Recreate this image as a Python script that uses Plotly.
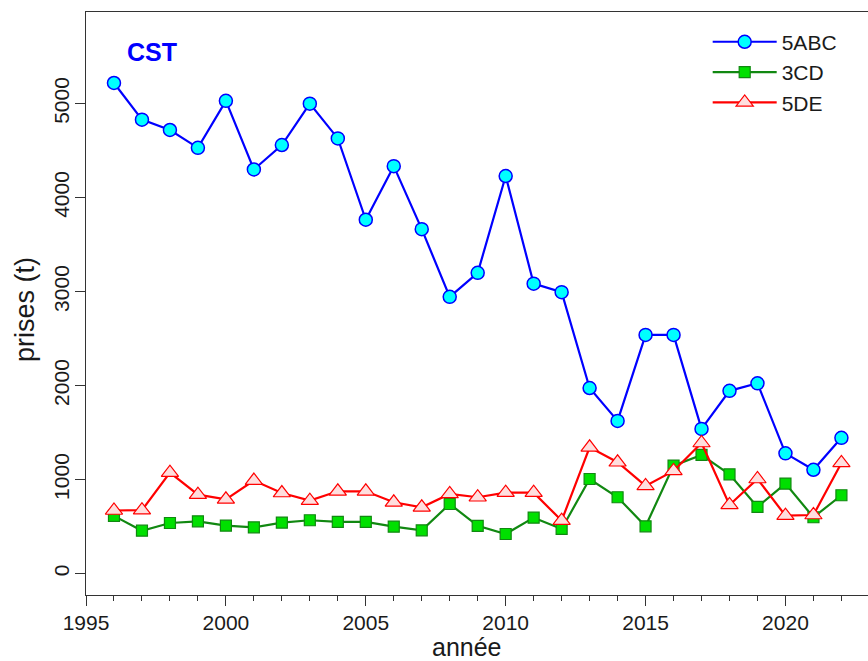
import plotly.graph_objects as go

# Years of catch records
years = list(range(1996, 2023))

# Catches (t) by area
catch_5abc = [5220, 4830, 4720, 4530, 5030, 4300, 4560, 5000, 4630, 3765, 4335,
              3665, 2945, 3200, 4230, 3085, 2995, 1975, 1625, 2540, 2540, 1540,
              1945, 2025, 1280, 1105, 1445]
catch_3cd = [615, 457, 539, 557, 511, 493, 543, 568, 550, 550, 500, 461, 741,
             509, 422, 596, 476, 1007, 813, 504, 1149, 1263, 1057, 710, 958,
             600, 834]
catch_5de = [672, 675, 1075, 841, 791, 990, 858, 777, 876, 876, 759, 706, 848,
             813, 862, 862, 564, 1344, 1185, 933, 1093, 1390, 731, 1007, 617,
             624, 1178]

series_names = ["5ABC", "3CD", "5DE"]

FONT = "Liberation Sans, Arial, sans-serif"
INK = "#1a1a1a"

fig = go.Figure()

fig.add_trace(go.Scatter(
    x=years, y=catch_5abc, name=series_names[0], mode="lines+markers",
    line=dict(color="#0000FF", width=2.2),
    marker=dict(symbol="circle", size=13, color="#00FFFF",
                line=dict(color="#0000FF", width=1.5)),
))
fig.add_trace(go.Scatter(
    x=years, y=catch_3cd, name=series_names[1], mode="lines+markers",
    line=dict(color="#118811", width=2.2),
    marker=dict(symbol="square", size=11, color="#00E000",
                line=dict(color="#118811", width=1.2)),
))
fig.add_trace(go.Scatter(
    x=years, y=catch_5de, name=series_names[2], mode="lines+markers",
    line=dict(color="#FF0000", width=2.2),
    marker=dict(symbol="triangle-up", size=15, color="#FFDEDE",
                line=dict(color="#FF0000", width=1.2)),
))

# Panel label
fig.add_annotation(
    text="<b>CST</b>", xref="paper", yref="paper",
    x=0.085, y=0.931, xanchor="center", yanchor="middle",
    showarrow=False, font=dict(family=FONT, size=25, color="#0000FF"),
)

# Axis titles
fig.add_annotation(
    text="année", xref="paper", yref="paper",
    x=0.487, y=-0.0884, xanchor="center", yanchor="middle",
    showarrow=False, font=dict(family=FONT, size=25, color=INK),
)
fig.add_annotation(
    text="prises (t)", xref="paper", yref="paper", textangle=-90,
    x=-0.078, y=0.489, xanchor="center", yanchor="middle",
    showarrow=False, font=dict(family=FONT, size=27, color=INK),
)

fig.update_layout(
    width=868, height=661,
    margin=dict(l=86, r=0, t=12, b=66),
    plot_bgcolor="white", paper_bgcolor="white",
    font=dict(family=FONT, color=INK),
    showlegend=True,
    legend=dict(
        x=0.795, y=0.9835, xanchor="left", yanchor="top",
        bgcolor="rgba(0,0,0,0)", borderwidth=0,
        font=dict(family=FONT, size=21, color=INK),
        itemwidth=64, tracegroupgap=0,
    ),
    xaxis=dict(
        range=[1995, 2022.95], showgrid=False, zeroline=False,
        showline=True, linecolor="#333333", linewidth=1.3, mirror=True,
        tickmode="linear", tick0=1995, dtick=5,
        ticks="outside", ticklen=10, tickwidth=1.3, tickcolor="#333333",
        minor=dict(dtick=1, tick0=1995, ticks="outside", ticklen=5,
                   tickwidth=1.3, tickcolor="#333333", showgrid=False),
        ticklabelstandoff=-1,
        tickfont=dict(family=FONT, size=21, color=INK),
    ),
    yaxis=dict(
        range=[-227, 5975], showgrid=False, zeroline=False,
        showline=True, linecolor="#333333", linewidth=1.3, mirror=False,
        tickmode="linear", tick0=0, dtick=1000,
        ticks="outside", ticklen=10, tickwidth=1.3, tickcolor="#333333",
        tickangle=-90, ticklabelstandoff=-3,
        tickfont=dict(family=FONT, size=21, color=INK),
    ),
)

fig.write_html("out.html")
